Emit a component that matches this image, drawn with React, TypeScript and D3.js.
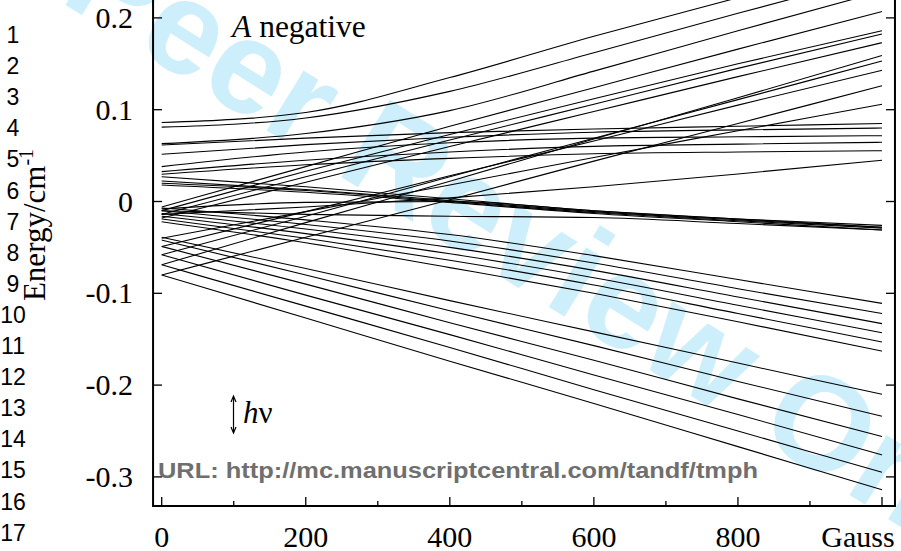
import React from 'react';
import * as d3 from 'd3';

// Field values (Gauss) at which each level is sampled
const fieldGauss = [0, 200, 400, 600, 800, 1000];

// Energy levels (cm^-1) read at the sampled fields
const levelsCurvedUp = [
  [0.086, 0.097, 0.135, 0.180, 0.222, 0.264],
  [0.081, 0.091, 0.120, 0.162, 0.205, 0.247],
  [0.063, 0.074, 0.099, 0.142, 0.186, 0.229],
];
const levelsFlat = [
  [0.0615, 0.069, 0.075, 0.079, 0.082, 0.085],
  [0.0514, 0.062, 0.070, 0.0755, 0.078, 0.080],
  [0.038, 0.054, 0.064, 0.069, 0.0705, 0.0717],
  [0.0325, 0.045, 0.054, 0.060, 0.0625, 0.0645],
  [0.0296, 0.040, 0.047, 0.052, 0.054, 0.0553],
];
const levelsBundle = [
  [0.027, 0.016, 0.003, -0.010, -0.019, -0.026],
  [0.0223, 0.013, 0.001, -0.011, -0.020, -0.028],
  [0.0198, 0.012, 0.000, -0.012, -0.021, -0.029],
  [0.018, 0.010, -0.001, -0.013, -0.022, -0.031],
  [-0.008, -0.001, 0.000, -0.010, -0.019, -0.028],
  [-0.010, -0.014, -0.016, -0.0175, -0.024, -0.031],
];
const levelsSlowRise = [
  [-0.014, -0.006, 0.004, 0.016, 0.030, 0.045],
];
const levelsRiseMid = [
  [-0.006, 0.038, 0.082, 0.124, 0.166, 0.207],
  [-0.010, 0.033, 0.073, 0.112, 0.150, 0.186],
  [-0.014, 0.027, 0.067, 0.106, 0.145, 0.1825],
  [-0.018, 0.021, 0.060, 0.098, 0.136, 0.173],
];
const levelsRiseLow = [
  [-0.080, -0.039, 0.002, 0.044, 0.085, 0.126],
  [-0.069, -0.023, 0.022, 0.068, 0.113, 0.159],
  [-0.058, -0.016, 0.027, 0.069, 0.111, 0.153],
  [-0.049, -0.011, 0.028, 0.066, 0.105, 0.143],
  [-0.040, -0.011, 0.018, 0.048, 0.077, 0.106],
];
const levelsFallMid = [
  [-0.007, -0.020, -0.036, -0.059, -0.085, -0.111],
  [-0.010, -0.025, -0.043, -0.067, -0.095, -0.122],
  [-0.013, -0.030, -0.050, -0.075, -0.104, -0.133],
  [-0.016, -0.035, -0.057, -0.083, -0.113, -0.143],
  [-0.019, -0.040, -0.064, -0.091, -0.122, -0.153],
  [-0.022, -0.045, -0.072, -0.100, -0.131, -0.163],
];
const levelsFallSteep = [
  [-0.039, -0.073, -0.108, -0.142, -0.176, -0.210],
  [-0.042, -0.080, -0.119, -0.157, -0.196, -0.234],
  [-0.049, -0.090, -0.132, -0.173, -0.215, -0.256],
  [-0.058, -0.102, -0.145, -0.189, -0.232, -0.276],
  [-0.069, -0.114, -0.159, -0.205, -0.250, -0.295],
  [-0.080, -0.127, -0.174, -0.220, -0.267, -0.314],
];

const xMajorTicks = [0, 200, 400, 600, 800, 1000];
const xMinorTicks = [100, 300, 500, 700, 900];
const xTickLabels = ['0', '200', '400', '600', '800', 'Gauss'];
const yTicks = [-0.3, -0.2, -0.1, 0, 0.1, 0.2];
const yTickLabels = ['-0.3', '-0.2', '-0.1', '0', '0.1', '0.2'];
const lineNumbers = d3.range(1, 18);

const W = 901;
const H = 551;
const SERIF = '"Liberation Serif", "Times New Roman", serif';
const SANS = '"Liberation Sans", Arial, sans-serif';

export default function App() {
  const x = d3.scaleLinear().domain([0, 1000]).range([161.7, 882]);
  const y = d3.scaleLinear().domain([-0.3, 0.2]).range([476.9, 17.9]);
  const frameLeft = x(-12);
  const frameRight = x(1018);
  const frameBottom = y(-0.3317);
  const frameTop = y(0.26);

  const line = d3
    .line<number>()
    .x((_, i) => x(fieldGauss[i]))
    .y((d) => y(d))
    .curve(d3.curveMonotoneX);

  const allLevels = [
    ...levelsCurvedUp,
    ...levelsFlat,
    ...levelsBundle,
    ...levelsSlowRise,
    ...levelsRiseMid,
    ...levelsRiseLow,
    ...levelsFallMid,
    ...levelsFallSteep,
  ];

  const wmSize = 133;
  return (
    <svg
      width={W}
      height={H}
      viewBox={`0 0 ${W} ${H}`}
      style={{ position: 'absolute', left: 0, top: 0, background: '#fff' }}
    >
      <rect x={0} y={0} width={W} height={H} fill="#fff" />
      {/* watermark */}
      <g transform="translate(334,172.6) rotate(32)" fill="#cdeefb" fontFamily={SANS} fontWeight="bold" fontSize={wmSize}>
        <text x={-0.278 * wmSize} y={0} textAnchor="end">For Peer</text>
        <text x={0} y={0} textAnchor="start">Review Only</text>
      </g>

      {/* line numbers */}
      <g fontFamily={SANS} fontSize={23} fill="#000">
        {lineNumbers.map((n, i) => (
          <text key={n} x={13} y={35 + i * 31.1 + 8} textAnchor="middle">
            {n}
          </text>
        ))}
      </g>

      {/* levels */}
      <defs>
        <clipPath id="plotclip">
          <rect x={frameLeft} y={frameTop} width={frameRight - frameLeft} height={frameBottom - frameTop} />
        </clipPath>
      </defs>
      <g clipPath="url(#plotclip)" fill="none" stroke="#000" strokeWidth={1.1}>
        {allLevels.map((lv, i) => (
          <path key={i} d={line(lv) || ''} />
        ))}
      </g>

      {/* frame */}
      <g stroke="#000" strokeWidth={2} fill="none">
        <line x1={frameLeft} y1={frameTop} x2={frameLeft} y2={frameBottom + 1} />
        <line x1={frameLeft} y1={frameBottom} x2={frameRight} y2={frameBottom} />
        <line x1={frameRight} y1={frameTop} x2={frameRight} y2={frameBottom + 1} />
      </g>
      <g stroke="#000" strokeWidth={1.3}>
        {yTicks.map((t) => (
          <g key={t}>
            <line x1={frameLeft} x2={frameLeft + 9} y1={y(t)} y2={y(t)} />
            <line x1={frameRight} x2={frameRight - 9} y1={y(t)} y2={y(t)} />
          </g>
        ))}
        {xMajorTicks.map((t) => (
          <line key={t} x1={x(t)} x2={x(t)} y1={frameBottom} y2={frameBottom - 9} />
        ))}
        {xMinorTicks.map((t) => (
          <line key={t} x1={x(t)} x2={x(t)} y1={frameBottom} y2={frameBottom - 5} />
        ))}
      </g>

      {/* tick labels */}
      <g fontFamily={SERIF} fontSize={30} fill="#000">
        {yTicks.map((t, i) => (
          <text key={t} x={133} y={y(t) + 10} textAnchor="end">
            {yTickLabels[i]}
          </text>
        ))}
        {xMajorTicks.map((t, i) => (
          <text key={t} x={i === 5 ? 858 : x(t)} y={547} textAnchor="middle">
            {xTickLabels[i]}
          </text>
        ))}
      </g>

      {/* axis title */}
      <text
        transform="translate(45,225) rotate(-90)"
        fontFamily={SERIF}
        fontSize={31}
        textAnchor="middle"
        fill="#000"
      >
        Energy/cm
        <tspan dy={-12} fontSize={20}>-1</tspan>
      </text>

      {/* annotations */}
      <text x={232} y={37} fontFamily={SERIF} fontSize={31.5} fill="#000">
        <tspan fontStyle="italic">A</tspan> negative
      </text>
      <g stroke="#000" strokeWidth={1.2} fill="none">
        <line x1={233.5} y1={397} x2={233.5} y2={432} />
        <path d="M231,402 L233.5,396 L236,402" />
        <path d="M231,427 L233.5,433 L236,427" />
      </g>
      <text x={243} y={423} fontFamily={SERIF} fontSize={31} fill="#000">
        <tspan fontStyle="italic">h</tspan>ν
      </text>

      <text x={158} y={478} fontFamily={SANS} fontWeight="bold" fontSize={22} fill="#6f6f6f" textLength={600} lengthAdjust="spacingAndGlyphs">
        URL: http://mc.manuscriptcentral.com/tandf/tmph
      </text>
    </svg>
  );
}
